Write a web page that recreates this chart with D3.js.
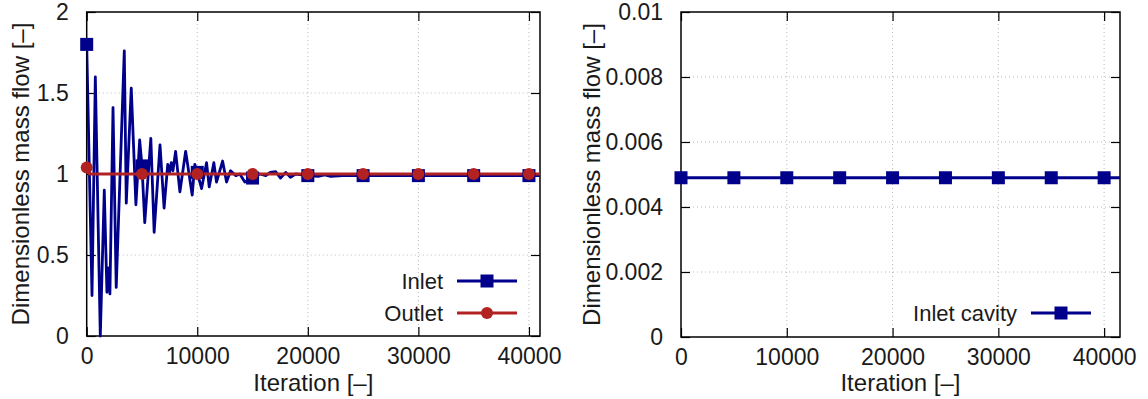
<!DOCTYPE html>
<html>
<head>
<meta charset="utf-8">
<script src="https://cdn.jsdelivr.net/npm/d3@7"></script>
<style>
html,body{margin:0;padding:0;background:#fff;}
svg{display:block;}
text{font-family:"Liberation Sans",Arial,Helvetica,sans-serif;fill:#1a1a1a;}
</style>
</head>
<body>
<svg id="chart" width="1148" height="399"></svg>
<script>
// ---------- data ----------
const inletIter = [0, 480, 780, 1230, 1590, 1830, 1960, 2100, 2380, 2670, 3400, 3580, 4030, 4450, 4790, 5000, 5250, 5800, 6100, 6630, 7000, 7330, 7500, 7650, 7800, 8040, 8430, 8950, 9540, 9780, 10000, 10390, 10840, 11080, 11500, 11740, 12290, 12650, 13010, 13490, 13850, 14300, 15000, 15660, 16200, 16600, 17100, 17530, 18000, 18430, 18900, 20000, 20920, 21530, 22070, 23150, 25000, 30000, 35000, 40000, 41000];
const inletFlow = [1.80, 0.25, 1.60, 0.0, 0.90, 0.27, 0.42, 0.26, 1.41, 0.30, 1.76, 0.82, 1.53, 0.81, 1.21, 1.05, 0.70, 1.22, 0.64, 1.18, 0.79, 1.06, 1.01, 1.07, 1.02, 1.14, 0.89, 1.14, 0.87, 1.06, 1.01, 0.91, 1.07, 0.92, 1.07, 0.95, 1.08, 0.95, 1.02, 0.99, 1.00, 0.95, 0.975, 1.00, 0.99, 1.01, 1.014, 0.975, 1.01, 0.98, 1.00, 0.99, 0.985, 0.995, 0.985, 0.99, 0.99, 0.99, 0.99, 0.99, 0.99];

const outletIter = [0, 250, 5000, 10000, 15000, 20000, 25000, 30000, 35000, 40000, 41000];
const outletFlow = [1.04, 1.00, 1.00, 1.00, 1.00, 1.00, 1.00, 1.00, 1.00, 1.00, 1.00];

const cavityIter = [0, 5000, 10000, 15000, 20000, 25000, 30000, 35000, 40000, 41500];
const cavityFlow = [0.0049, 0.0049, 0.0049, 0.0049, 0.0049, 0.0049, 0.0049, 0.0049, 0.0049, 0.0049];

const xTicks = [0, 10000, 20000, 30000, 40000];
const yTicksLeft = [0, 0.5, 1, 1.5, 2];
const yTickLabelsLeft = ["0", "0.5", "1", "1.5", "2"];
const yTicksRight = [0, 0.002, 0.004, 0.006, 0.008, 0.01];
const yTickLabelsRight = ["0", "0.002", "0.004", "0.006", "0.008", "0.01"];

const seriesNames = ["Inlet", "Outlet", "Inlet cavity"];
const xLabel = "Iteration [–]";
const yLabel = "Dimensionless mass flow [–]";

// ---------- styles ----------
const BLUE = "#00008b";
const RED = "#b22222";
const TICK_FONT = 23;
const LABEL_FONT = 24;
const LEGEND_FONT = 22;
const markerEvery = 5000;

const svg = d3.select("#chart");

function panel(cfg) {
  const g = svg.append("g");
  const x = d3.scaleLinear().domain(cfg.xDomain).range([cfg.left, cfg.right]);
  const y = d3.scaleLinear().domain(cfg.yDomain).range([cfg.bottom, cfg.top]);

  // grid
  g.append("g").selectAll("line").data(cfg.xTicks.filter(t => t > cfg.xDomain[0])).join("line")
    .attr("x1", d => x(d)).attr("x2", d => x(d))
    .attr("y1", cfg.top).attr("y2", cfg.bottom)
    .attr("stroke", "#b8b8b8").attr("stroke-width", 1).attr("stroke-dasharray", "1,3");
  g.append("g").selectAll("line").data(cfg.yTicks.filter(t => t > cfg.yDomain[0] && t < cfg.yDomain[1])).join("line")
    .attr("y1", d => y(d)).attr("y2", d => y(d))
    .attr("x1", cfg.left).attr("x2", cfg.right)
    .attr("stroke", "#b8b8b8").attr("stroke-width", 1).attr("stroke-dasharray", "1,3");

  const tickLen = 9;
  const axB = g.append("g").attr("transform", `translate(0,${cfg.bottom})`)
    .call(d3.axisBottom(x).tickValues(cfg.xTicks).tickSize(-tickLen).tickPadding(tickLen + 3).tickFormat(d3.format("d")));
  const axT = g.append("g").attr("transform", `translate(0,${cfg.top})`)
    .call(d3.axisTop(x).tickValues(cfg.xTicks).tickSize(-tickLen).tickFormat(""));
  const axL = g.append("g").attr("transform", `translate(${cfg.left},0)`)
    .call(d3.axisLeft(y).tickValues(cfg.yTicks).tickSize(-tickLen).tickPadding(tickLen + 9)
      .tickFormat((d, i) => cfg.yTickLabels[i]));
  const axR = g.append("g").attr("transform", `translate(${cfg.right},0)`)
    .call(d3.axisRight(y).tickValues(cfg.yTicks).tickSize(-tickLen).tickFormat(""));
  [axB, axT, axL, axR].forEach(a => {
    a.select(".domain").remove();
    a.selectAll(".tick line").attr("stroke", "#000").attr("stroke-width", 1.2);
    a.selectAll(".tick text").attr("font-size", TICK_FONT).attr("font-family", "Liberation Sans, Arial, sans-serif").attr("fill", "#1a1a1a");
  });

  // frame
  g.append("rect").attr("x", cfg.left).attr("y", cfg.top)
    .attr("width", cfg.right - cfg.left).attr("height", cfg.bottom - cfg.top)
    .attr("fill", "none").attr("stroke", "#000").attr("stroke-width", 1.5);

  // labels
  g.append("text").attr("x", (cfg.left + cfg.right) / 2).attr("y", 391)
    .attr("text-anchor", "middle").attr("font-size", LABEL_FONT).text(xLabel);
  g.append("text").attr("transform", `translate(${cfg.ylabelX},${(cfg.top + cfg.bottom) / 2}) rotate(-90)`)
    .attr("text-anchor", "middle").attr("font-size", LABEL_FONT).text(yLabel);

  const clip = "clip" + cfg.id;
  svg.append("clipPath").attr("id", clip).append("rect")
    .attr("x", cfg.left).attr("y", cfg.top - 8).attr("width", cfg.right - cfg.left).attr("height", cfg.bottom - cfg.top + 16);
  const plot = g.append("g").attr("clip-path", `url(#${clip})`);

  const line = d3.line().x(d => x(d[0])).y(d => y(d[1]));
  cfg.series.forEach(s => {
    const pts = s.iter.map((it, i) => [it, s.val[i]]);
    plot.append("path").datum(pts).attr("d", line)
      .attr("fill", "none").attr("stroke", s.color).attr("stroke-width", 2.8).attr("stroke-linejoin", "round");
    const mk = pts.filter(p => p[0] % markerEvery === 0);
    drawMarkers(g, mk.map(p => [x(p[0]), y(p[1])]), s);
  });

  // legend
  cfg.series.forEach((s, i) => {
    const ly = cfg.legendY + i * 32;
    g.append("text").attr("x", cfg.legendTextX).attr("y", ly).attr("dy", "0.35em")
      .attr("text-anchor", "end").attr("font-size", LEGEND_FONT).text(s.name);
    g.append("line").attr("x1", cfg.legendTextX + 14).attr("x2", cfg.legendTextX + 74)
      .attr("y1", ly).attr("y2", ly).attr("stroke", s.color).attr("stroke-width", 2.8);
    drawMarkers(g, [[cfg.legendTextX + 44, ly]], s);
  });
}

function drawMarkers(g, pts, s) {
  if (s.marker === "square") {
    g.append("g").selectAll("rect").data(pts).join("rect")
      .attr("x", d => d[0] - 6.5).attr("y", d => d[1] - 6.5)
      .attr("width", 13).attr("height", 13).attr("fill", s.color);
  } else {
    g.append("g").selectAll("circle").data(pts).join("circle")
      .attr("cx", d => d[0]).attr("cy", d => d[1]).attr("r", 6).attr("fill", s.color);
  }
}

panel({
  id: "L", left: 86.7, right: 540, top: 12, bottom: 336,
  xDomain: [0, 41000], yDomain: [0, 2],
  xTicks: xTicks, yTicks: yTicksLeft, yTickLabels: yTickLabelsLeft,
  ylabelX: 29, legendTextX: 443, legendY: 281,
  series: [
    {name: seriesNames[0], iter: inletIter, val: inletFlow, color: BLUE, marker: "square"},
    {name: seriesNames[1], iter: outletIter, val: outletFlow, color: RED, marker: "circle"}
  ]
});

panel({
  id: "R", left: 681, right: 1120, top: 12, bottom: 337,
  xDomain: [0, 41500], yDomain: [0, 0.01],
  xTicks: xTicks, yTicks: yTicksRight, yTickLabels: yTickLabelsRight,
  ylabelX: 600, legendTextX: 1017, legendY: 313,
  series: [
    {name: seriesNames[2], iter: cavityIter, val: cavityFlow, color: BLUE, marker: "square"}
  ]
});
</script>
</body>
</html>
